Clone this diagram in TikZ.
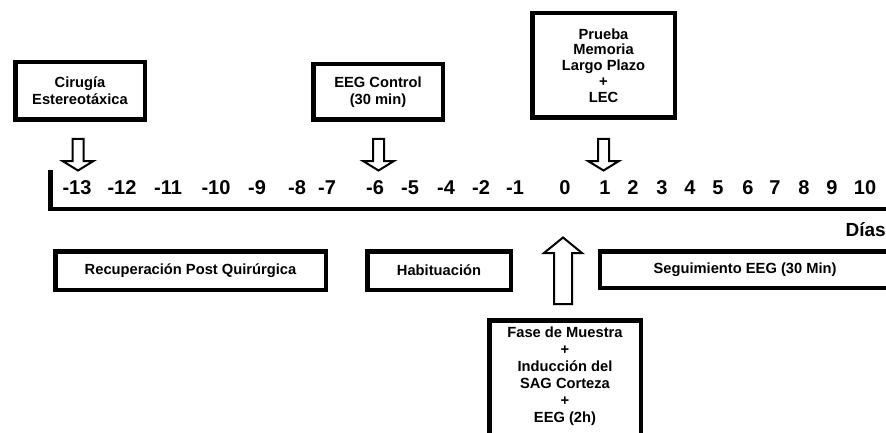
\documentclass[tikz,border=0pt]{standalone}
\usepackage{fontspec}
\setmainfont{Liberation Sans}
% hollow block arrow pointing down, #1 = top centre of the shaft
\newcommand\hollowdown[1]{%
  \draw[blockarrow] (#1) ++(-5.5,0) -- ++(0,22) -- ++(-10,0) -- ++(15.5,9.5)
    -- ++(15.5,-9.5) -- ++(-10,0) -- ++(0,-22) -- cycle;}
\begin{document}
\begin{tikzpicture}[x=1pt,y=-1pt,
  boxfont/.style={font=\fontsize{14.7}{17}\selectfont\bfseries},
  box/.style={draw, line width=4.5pt, inner sep=0pt, align=center, boxfont},
  boxtext/.style={inner sep=0pt, align=center, boxfont},
  day/.style={font=\fontsize{20}{24}\selectfont\bfseries, inner sep=0pt},
  blockarrow/.style={draw, line width=2pt, fill=white, line join=miter},
  axis/.style={line width=4.8pt, line join=miter}]
\useasboundingbox (0,0) rectangle (886,433);
\clip (0,0) rectangle (886,433);

% time axis
\coordinate (axtop) at (50.5,170);
\coordinate (axend) at (900,209);
\draw[axis] (axtop) |- (axend);

% day labels
\foreach \x/\d [count=\i] in {77/-13, 122/-12, 168/-11, 216/-10, 257/-9, 297/-8,
    327/-7, 375/-6, 410/-5, 446/-4, 481/-2, 515/-1, 565/0, 605/1, 633/2, 662/3,
    690/4, 718/5, 748/6, 775/7, 804/8, 832/9, 865/10}
  \node[day] (day\i) at (\x,187.5) {\d};
\node[font=\fontsize{19}{22}\selectfont\bfseries, anchor=base east, inner sep=0pt]
  (dias) at (886,236) {Días};

% events above the axis
\node[box, minimum width=129.5pt, minimum height=57.5pt] (cirugia) at (80,91)
  {Cirugía\\Estereotáxica};
\node[box, minimum width=129.5pt, minimum height=55.5pt] (eegctl) at (378,92)
  {EEG Control\\(30 min)};
\node[box, minimum width=142.5pt, minimum height=104.5pt,
  font=\fontsize{14.7}{15.8}\selectfont\bfseries] (prueba) at (603.5,65.5)
  {Prueba\\Memoria\\Largo Plazo\\+\\LEC};

\coordinate (arrA) at (78,139);
\coordinate (arrB) at (378.5,139);
\coordinate (arrC) at (603.5,139);
\hollowdown{arrA}
\hollowdown{arrB}
\hollowdown{arrC}

% phases below the axis
\node[box, minimum width=270.5pt, minimum height=38.5pt] (recup) at (190.5,270.5)
  {Recuperación Post Quirúrgica};
\node[box, minimum width=143.5pt, minimum height=38.5pt] (habit) at (439,270.5)
  {Habituación};
\node[box, minimum width=289.75pt, minimum height=36.5pt] (seguim) at (745.1,269.5)
  {Seguimiento EEG (30 Min)};

% sample phase on day 0
\node[box, minimum width=151.5pt, minimum height=150pt, anchor=north] (fasebox)
  at (565,318.25) {};
\node[boxtext] (fase) at (565,376)
  {Fase de Muestra\\+\\Inducción del\\SAG Corteza\\+\\EEG (2h)};
\coordinate (uptip) at (563,237.5);
\draw[blockarrow] (uptip) -- ++(19,15.5) -- ++(-10,0) -- ++(0,51) -- ++(-18,0)
  -- ++(0,-51) -- ++(-10,0) -- cycle;
\end{tikzpicture}
\end{document}
